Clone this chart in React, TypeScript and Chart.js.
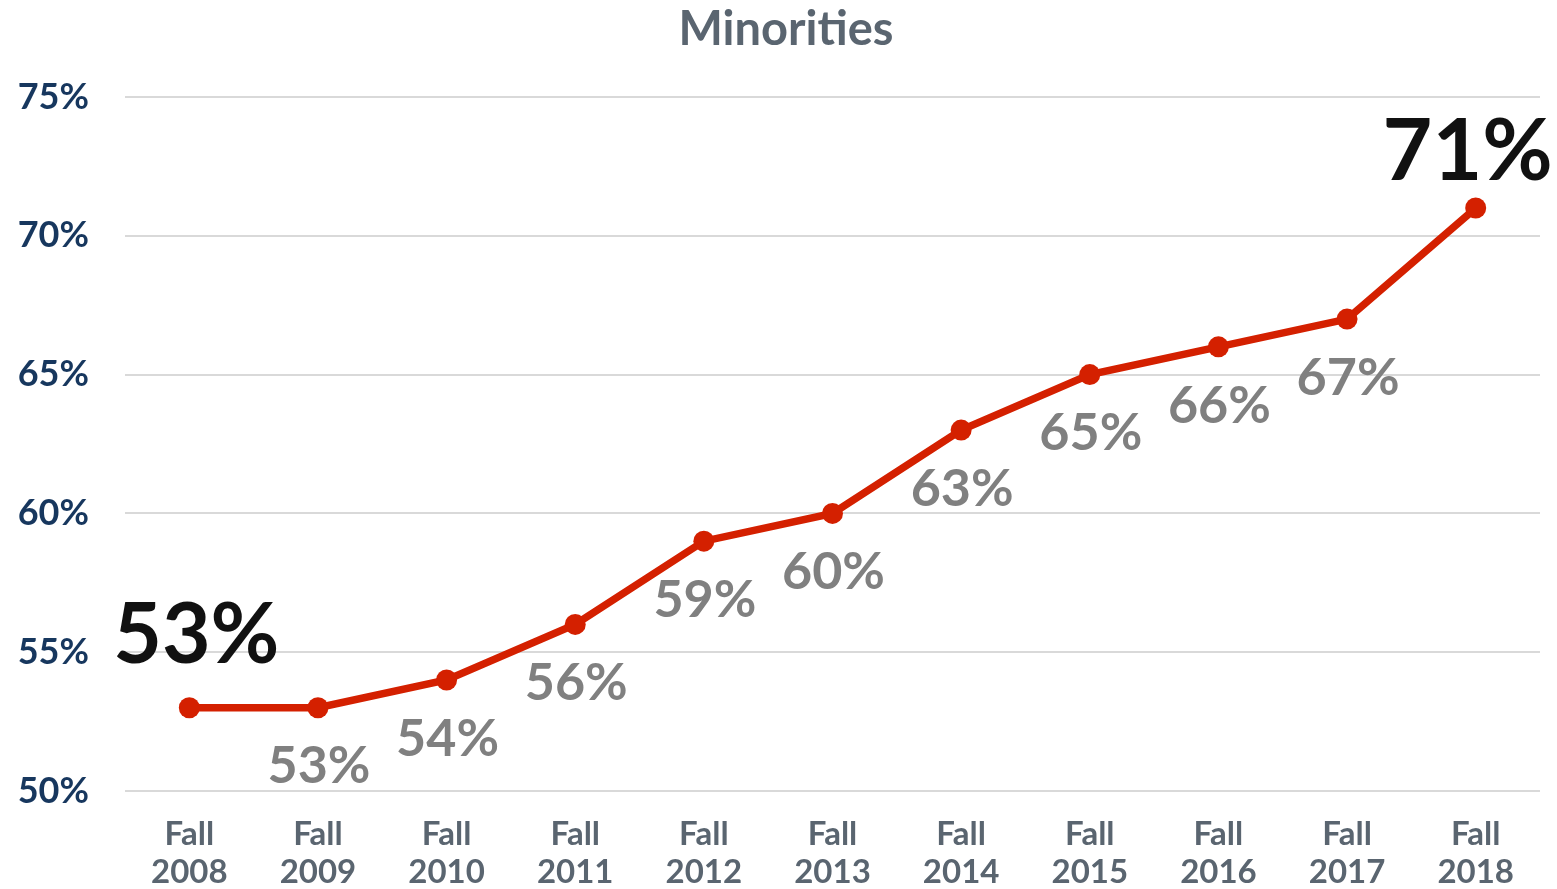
import React, { useEffect, useRef } from "react";
import { Chart, registerables } from "chart.js";

Chart.register(...registerables);

// Fall-term enrollment share of minority students
const chartTitle = "Minorities";
const terms: string[][] = [
  ["Fall", "2008"], ["Fall", "2009"], ["Fall", "2010"], ["Fall", "2011"],
  ["Fall", "2012"], ["Fall", "2013"], ["Fall", "2014"], ["Fall", "2015"],
  ["Fall", "2016"], ["Fall", "2017"], ["Fall", "2018"],
];
const minorityShare: number[] = [53, 53, 54, 56, 59, 60, 63, 65, 66, 67, 71];
const axisMin = 50;
const axisMax = 75;
const axisStep = 5;

const FONT = "Lato, 'Open Sans', sans-serif";
const RED = "#d42000";

// Heading, centred a little right of the canvas middle.
const headline = {
  id: "headline",
  afterDraw(chart: any) {
    const { ctx } = chart;
    ctx.save();
    ctx.font = `bold 47px ${FONT}`;
    ctx.fillStyle = "#5a6570";
    ctx.textAlign = "center";
    ctx.textBaseline = "middle";
    ctx.fillText(chartTitle, 786, 30);
    ctx.restore();
  },
};

// Writes each point's value: grey under the point, and a large black
// callout for the first and last terms.
const valueLabels = {
  id: "valueLabels",
  afterDatasetsDraw(chart: any) {
    const { ctx } = chart;
    const meta = chart.getDatasetMeta(0);
    const values = chart.data.datasets[0].data as number[];
    const last = values.length - 1;
    ctx.save();
    ctx.textAlign = "center";
    ctx.textBaseline = "middle";
    meta.data.forEach((pt: any, i: number) => {
      const text = `${values[i]}%`;
      if (i === 0) {
        ctx.font = `bold 84px ${FONT}`;
        ctx.fillStyle = "#111111";
        ctx.fillText(text, pt.x + 7, pt.y - 72);
      } else if (i === last) {
        ctx.font = `bold 86px ${FONT}`;
        ctx.fillStyle = "#111111";
        ctx.fillText(text, pt.x - 8, pt.y - 56);
      }
      if (i !== 0 && i !== last) {
        ctx.font = `bold 52px ${FONT}`;
        ctx.fillStyle = "#808080";
        ctx.fillText(text, pt.x + 1, pt.y + 59);
      }
    });
    ctx.restore();
  },
};

export default function App() {
  const canvasRef = useRef<HTMLCanvasElement | null>(null);

  useEffect(() => {
    if (!canvasRef.current) return;
    const chart = new Chart(canvasRef.current, {
      type: "line",
      data: {
        labels: terms,
        datasets: [
          {
            label: chartTitle,
            data: minorityShare,
            borderColor: RED,
            backgroundColor: RED,
            borderWidth: 7.5,
            pointRadius: 10.5,
            pointHoverRadius: 10.5,
            pointBackgroundColor: RED,
            pointBorderWidth: 0,
            tension: 0,
          },
        ],
      },
      options: {
        animation: false,
        responsive: false,
        maintainAspectRatio: false,
        layout: { padding: { left: 0, right: 17, top: 97, bottom: 0 } },
        plugins: {
          legend: { display: false },
          tooltip: { enabled: false },
          title: { display: false },
        },
        scales: {
          x: {
            offset: true,
            grid: { display: false, drawTicks: false },
            border: { display: false },
            ticks: {
              color: "#5a6570",
              padding: 24,
              maxRotation: 0,
              autoSkip: false,
              font: { family: FONT, size: 33, weight: "bold", lineHeight: 1.15 },
            },
            afterFit(scale: any) {
              scale.height = 98;
            },
          },
          y: {
            min: axisMin,
            max: axisMax,
            grid: { color: "#d9d9d9", lineWidth: 2, drawTicks: false },
            border: { display: false },
            ticks: {
              stepSize: axisStep,
              color: "#17375e",
              padding: 36,
              font: { family: FONT, size: 36, weight: "bold" },
              callback: (v: any) => `${v}%`,
            },
            afterFit(scale: any) {
              scale.width = 125;
            },
          },
        },
      },
      plugins: [valueLabels, headline],
    });
    return () => chart.destroy();
  }, []);

  return (
    <div style={{ position: "absolute", left: 0, top: 0, width: 1557, height: 889, background: "#ffffff" }}>
      <canvas ref={canvasRef} width={1557} height={889} />
    </div>
  );
}
